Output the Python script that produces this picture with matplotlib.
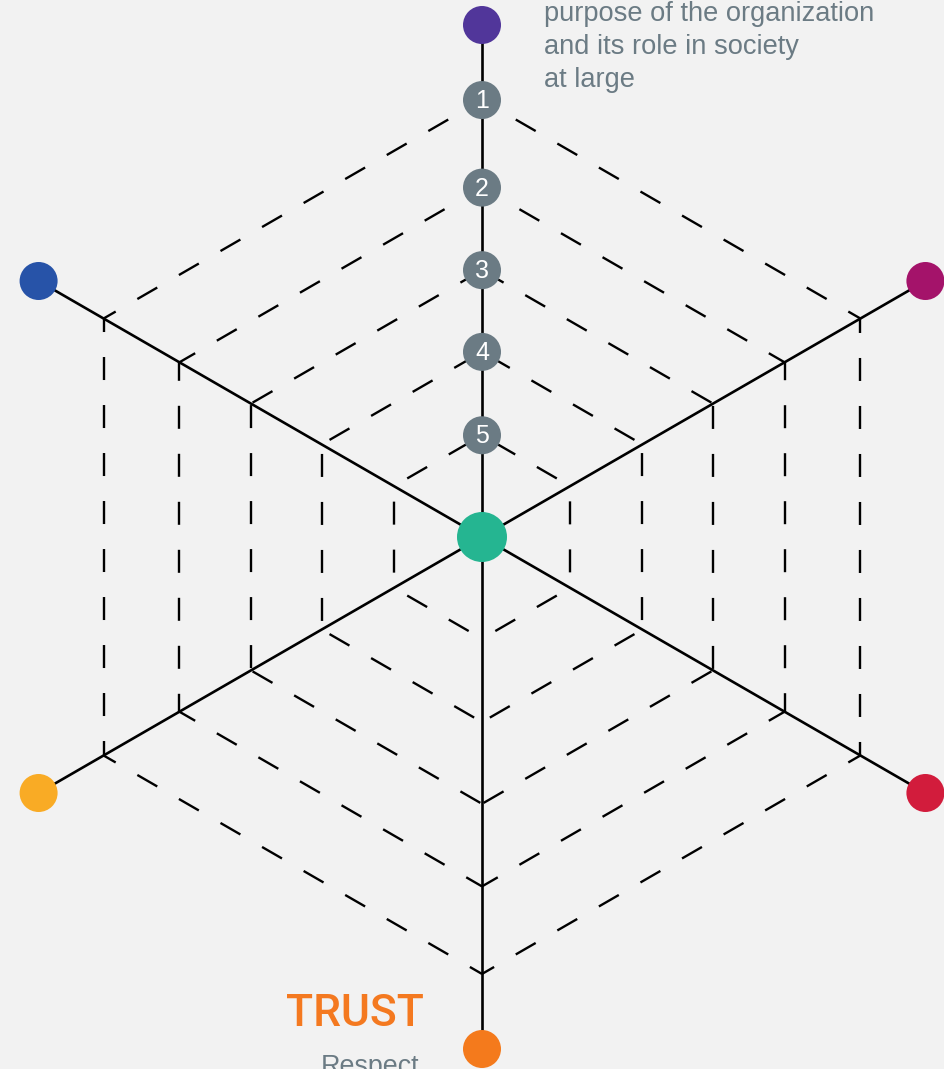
import numpy as np
import matplotlib
matplotlib.use("Agg")
import matplotlib.pyplot as plt
from matplotlib.patches import Circle

# ---------------- data ----------------
levels = [1, 2, 3, 4, 5]                       # numbered rings on the top axis
ring_values = [5.24, 4.19, 3.20, 2.22, 1.22]   # ring distance from centre (scale units)
axis_length = 6.14                             # axis end (scale units)
axis_angles_deg = [90, 30, -30, -90, -150, 150]
axis_colors = ["#51369a", "#a4136a", "#d21c3c", "#f47a1c", "#f9ab25", "#2753a8"]
centre_color = "#25b591"
marker_color = "#6b7b84"
text_color = "#6b7b84"
trust_color = "#f47920"
top_text = ["purpose of the organization", "and its role in society", "at large"]
bottom_title = "TRUST"
bottom_text = "Respect"

# ---------------- layout ----------------
W, H = 944, 1069
plt.rcParams["lines.scale_dashes"] = False
fig = plt.figure(figsize=(W / 100, H / 100), dpi=100, facecolor="#f2f2f2")
ax = fig.add_axes([0, 0, 1, 1])
ax.set_xlim(0, W)
ax.set_ylim(H, 0)
ax.set_facecolor("#f2f2f2")
ax.axis("off")

cx, cy = 482, 537
unit = 512 / axis_length   # pixels per scale unit
px2pt = 0.72


def pt(r, ang):
    a = np.deg2rad(ang)
    return cx + r * np.cos(a), cy - r * np.sin(a)


# axes
for ang in axis_angles_deg:
    x, y = pt(axis_length * unit, ang)
    ax.plot([cx, x], [cy, y], color="black", lw=1.9, solid_capstyle="butt", zorder=2)

# dashed hexagon rings (pattern centred on each edge)
dash, gap = 23, 25
period = dash + gap
for rv in ring_values:
    r = rv * unit
    verts = [pt(r, a) for a in axis_angles_deg]
    for i in range(6):
        x0, y0 = verts[i]
        x1, y1 = verts[(i + 1) % 6]
        L = np.hypot(x1 - x0, y1 - y0)
        phase = (dash + gap / 2 - L / 2) % period
        ax.plot([x0, x1], [y0, y1], color="black", lw=1.7,
                linestyle=(phase * px2pt, (dash * px2pt, gap * px2pt)),
                dash_capstyle="butt", zorder=2)

# end circles
for ang, col in zip(axis_angles_deg, axis_colors):
    x, y = pt(axis_length * unit, ang)
    ax.add_patch(Circle((x, y), 19, color=col, zorder=4, lw=0))

# centre
ax.add_patch(Circle((cx, cy), 25, color=centre_color, zorder=4, lw=0))

# numbered markers
for lv, rv in zip(levels, ring_values):
    x, y = pt(rv * unit, 90)
    ax.add_patch(Circle((x, y), 19, color=marker_color, zorder=4, lw=0))
    ax.text(x, y + 1, str(lv), color="white", fontsize=18, ha="center", va="center",
            family="Liberation Sans", zorder=5)

# texts
for i, line in enumerate(top_text):
    ax.text(544, 21 + i * 33, line, color=text_color, fontsize=19.6,
            family="Liberation Sans", ha="left", va="baseline")

ax.text(424, 1026, bottom_title, color=trust_color, fontsize=32, family="Roboto",
        fontweight="medium", ha="right", va="baseline")
ax.text(419, 1074, bottom_text, color=text_color, fontsize=19.4,
        family="Liberation Sans", ha="right", va="baseline")

fig.savefig("out.png", dpi=100, facecolor=fig.get_facecolor())
